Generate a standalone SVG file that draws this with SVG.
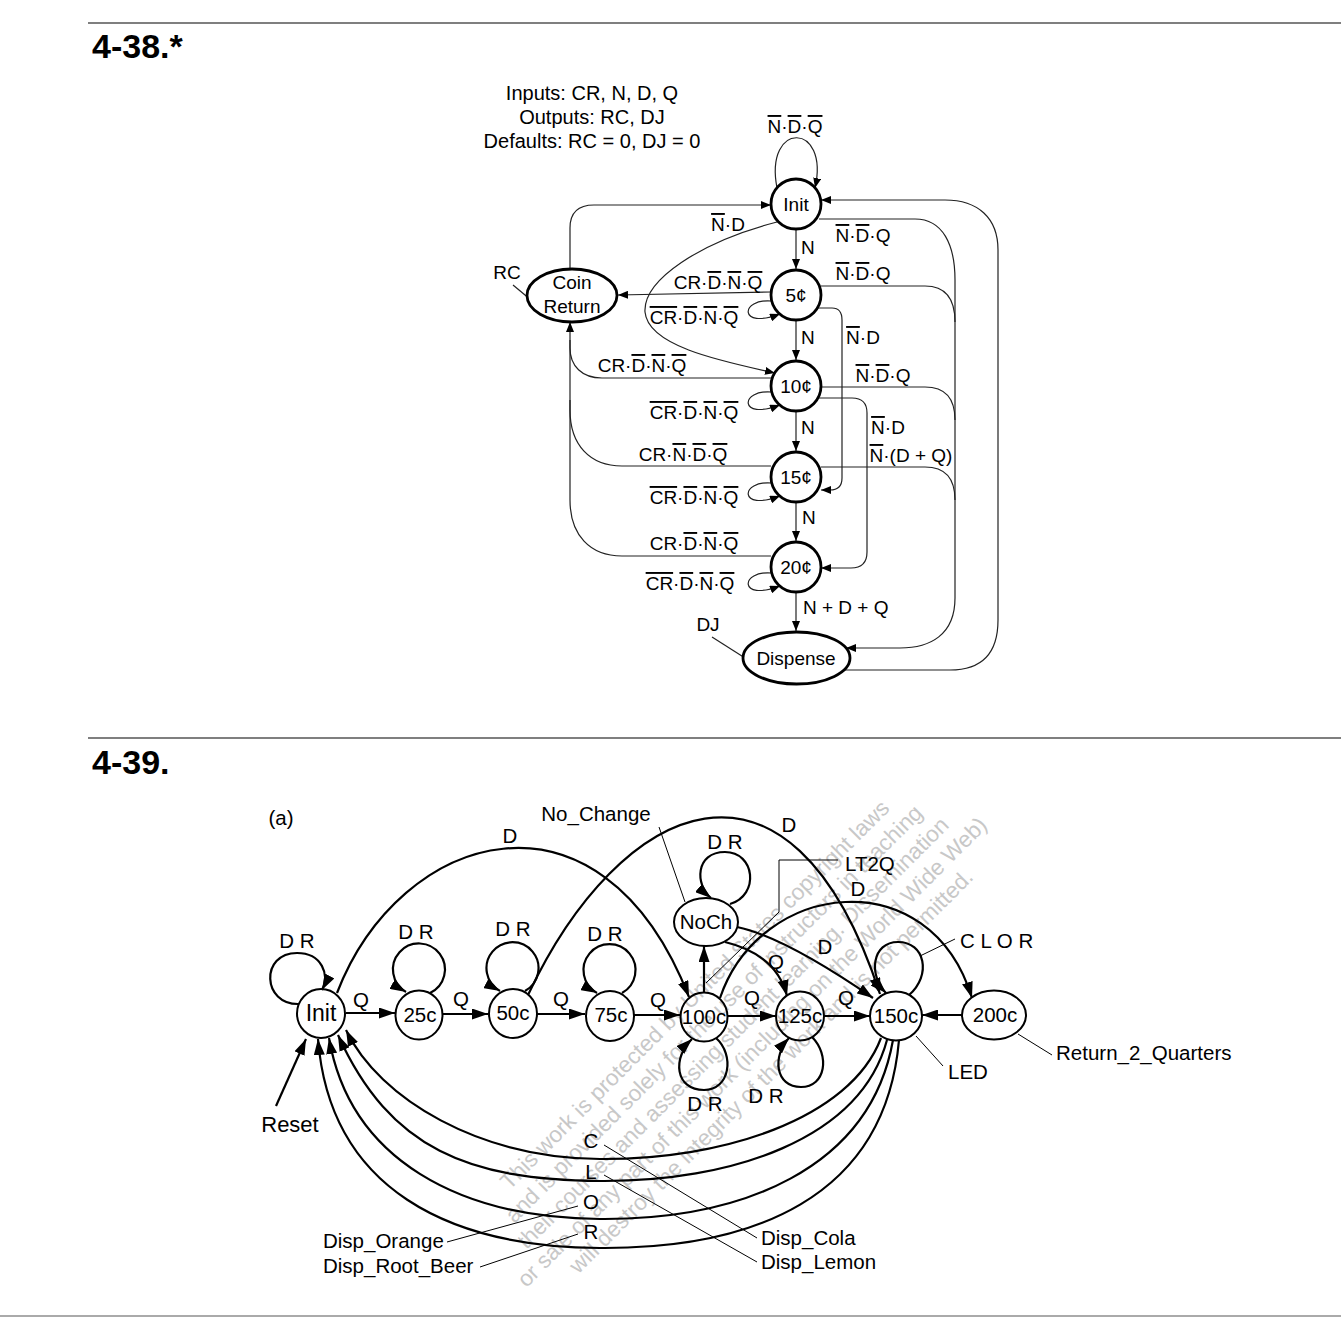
<svg xmlns="http://www.w3.org/2000/svg" width="1341" height="1318" viewBox="0 0 1341 1318">
<style>
text{font-family:"Liberation Sans",Arial,Helvetica,sans-serif;fill:#000}
.t19{font-size:19px}
.t20{font-size:20.5px}
.h{font-size:34px;font-weight:bold}
.m{text-anchor:middle}
.o{text-decoration:overline}
.e{fill:none;stroke:#222;stroke-width:1.2}
.n{fill:#fff;stroke:#000;stroke-width:2.8}
.b{fill:none;stroke:#000;stroke-width:2.2}
.bn{fill:none;stroke:#000;stroke-width:2}
.thin{fill:none;stroke:#000;stroke-width:1}
.wm{font-size:22.5px;fill:#c8c8c8;text-anchor:middle}
</style>
<defs>
<marker id="a" viewBox="0 0 10 8" refX="10" refY="4" markerWidth="10" markerHeight="8" markerUnits="userSpaceOnUse" orient="auto"><path d="M0,0 L10,4 L0,8 Z" fill="#000"/></marker>
<marker id="A" viewBox="0 0 16 11" refX="16" refY="5.5" markerWidth="16" markerHeight="11" markerUnits="userSpaceOnUse" orient="auto"><path d="M0,0 L16,5.5 L0,11 Z" fill="#000"/></marker>
</defs>
<rect width="1341" height="1318" fill="#fff"/>
<line x1="88" y1="23" x2="1341" y2="23" stroke="#000" stroke-width="1.2"/>
<line x1="88" y1="738" x2="1341" y2="738" stroke="#000" stroke-width="1.2"/>
<line x1="0" y1="1316" x2="1341" y2="1316" stroke="#aaa" stroke-width="2"/>
<text class="h" x="92" y="58">4-38.*</text>
<text class="h" x="92" y="774">4-39.</text>

<!-- ===== 4-38 ===== -->
<g id="p38-header" style="font-size:20px">
<text class="m" x="592" y="100">Inputs: CR, N, D, Q</text>
<text class="m" x="592" y="124">Outputs: RC, DJ</text>
<text class="m" x="592" y="148">Defaults: RC = 0, DJ = 0</text>
</g>
<g id="p38-connectors">
<path class="e" d="M777,188 C 764,120 830,122 815,188" marker-end="url(#a)"/>
<path class="e" d="M796,229 V269" marker-end="url(#a)"/>
<path class="e" d="M570,269 V228 Q570,205 594,205 H771" marker-end="url(#a)"/>
<path class="e" d="M777,222 C 700,242 643,280 645,312 C 648,345 715,360 775,373" marker-end="url(#a)"/>
<path class="e" d="M771,292 L618,295" marker-end="url(#a)"/>
<path class="e" d="M772,301 C 740,298 738,330 780,314" marker-end="url(#a)"/>
<path class="e" d="M796,320 V360" marker-end="url(#a)"/>
<path class="e" d="M819,219 H915 C943,219 955,245 955,280 V598 C955,635 930,648 900,648 H846" marker-end="url(#a)"/>
<path class="e" d="M821,286 H925 C945,286 955,298 955,322"/>
<path class="e" d="M821,387 H925 C945,387 955,398 955,420"/>
<path class="e" d="M821,467 H925 C945,467 955,478 955,500"/>
<path class="e" d="M844,670 H950 C985,670 998,650 998,620 V250 C998,218 978,200 945,200 H821" marker-end="url(#a)"/>
<path class="e" d="M818,308 H832 Q842,308 842,320 V478 Q842,490 830,490 H821" marker-end="url(#a)"/>
<path class="e" d="M818,398 H852 Q867,398 867,413 V552 Q867,568 851,568 H821" marker-end="url(#a)"/>
<path class="e" d="M771,378 H602 C582,378 570,366 570,348 V322" marker-end="url(#a)"/>
<path class="e" d="M771,466 H622 C590,466 570,445 570,410 V340"/>
<path class="e" d="M771,556 H622 C590,556 570,535 570,500 V400"/>
<path class="e" d="M772,392 C 740,389 738,421 780,405" marker-end="url(#a)"/>
<path class="e" d="M796,411 V451" marker-end="url(#a)"/>
<path class="e" d="M772,483 C 740,480 738,512 780,496" marker-end="url(#a)"/>
<path class="e" d="M796,502 V541" marker-end="url(#a)"/>
<path class="e" d="M772,573 C 740,570 738,602 780,586" marker-end="url(#a)"/>
<path class="e" d="M796,592 V631" marker-end="url(#a)"/>
<path class="e" d="M513,285 L531,300"/>
<path class="e" d="M712,637 L745,658"/>
</g>
<g id="p38-labels" class="t19">
<text class="m" x="795" y="133"><tspan class="o">N</tspan>·<tspan class="o">D</tspan>·<tspan class="o">Q</tspan></text>
<text class="m" x="728" y="231"><tspan class="o">N</tspan>·D</text>
<text x="801" y="254">N</text>
<text class="m" x="863" y="242"><tspan class="o">N</tspan>·<tspan class="o">D</tspan>·Q</text>
<text class="m" x="863" y="280"><tspan class="o">N</tspan>·<tspan class="o">D</tspan>·Q</text>
<text class="m" x="718" y="289">CR·<tspan class="o">D</tspan>·<tspan class="o">N</tspan>·<tspan class="o">Q</tspan></text>
<text class="m" x="694" y="324"><tspan class="o">CR</tspan>·<tspan class="o">D</tspan>·<tspan class="o">N</tspan>·<tspan class="o">Q</tspan></text>
<text x="801" y="344">N</text>
<text class="m" x="863" y="344"><tspan class="o">N</tspan>·D</text>
<text class="m" x="642" y="372">CR·<tspan class="o">D</tspan>·<tspan class="o">N</tspan>·<tspan class="o">Q</tspan></text>
<text class="m" x="883" y="382"><tspan class="o">N</tspan>·<tspan class="o">D</tspan>·Q</text>
<text class="m" x="694" y="419"><tspan class="o">CR</tspan>·<tspan class="o">D</tspan>·<tspan class="o">N</tspan>·<tspan class="o">Q</tspan></text>
<text x="801" y="434">N</text>
<text class="m" x="888" y="434"><tspan class="o">N</tspan>·D</text>
<text class="m" x="683" y="461">CR·<tspan class="o">N</tspan>·<tspan class="o">D</tspan>·<tspan class="o">Q</tspan></text>
<text class="m" x="911" y="462"><tspan class="o">N</tspan>·(D + Q)</text>
<text class="m" x="694" y="504"><tspan class="o">CR</tspan>·<tspan class="o">D</tspan>·<tspan class="o">N</tspan>·<tspan class="o">Q</tspan></text>
<text x="802" y="524">N</text>
<text class="m" x="694" y="550">CR·<tspan class="o">D</tspan>·<tspan class="o">N</tspan>·<tspan class="o">Q</tspan></text>
<text class="m" x="690" y="590"><tspan class="o">CR</tspan>·<tspan class="o">D</tspan>·<tspan class="o">N</tspan>·<tspan class="o">Q</tspan></text>
<text x="803" y="614">N + D + Q</text>
<text class="m" x="708" y="631">DJ</text>
<text class="m" x="507" y="279">RC</text>
</g>
<g id="s38-init" class="t19"><circle class="n" cx="796" cy="204" r="25"/><text class="m" x="796" y="211">Init</text></g>
<g id="s38-5" class="t19"><circle class="n" cx="796" cy="295" r="25"/><text class="m" x="796" y="302">5¢</text></g>
<g id="s38-10" class="t19"><circle class="n" cx="796" cy="386" r="25"/><text class="m" x="796" y="393">10¢</text></g>
<g id="s38-15" class="t19"><circle class="n" cx="796" cy="477" r="25"/><text class="m" x="796" y="484">15¢</text></g>
<g id="s38-20" class="t19"><circle class="n" cx="796" cy="567" r="25"/><text class="m" x="796" y="574">20¢</text></g>
<g id="s38-coinreturn" class="t19"><ellipse class="n" cx="572" cy="295.5" rx="45" ry="26.5"/><text class="m" x="572" y="289">Coin</text><text class="m" x="572" y="313">Return</text></g>
<g id="s38-dispense" class="t19"><ellipse class="n" cx="796.5" cy="658" rx="53.5" ry="26"/><text class="m" x="796" y="665">Dispense</text></g>

<!-- ===== 4-39 ===== -->
<g id="watermark" transform="translate(734,1034) rotate(-45)">
<text class="wm" x="0" y="-48">This work is protected by United States copyright laws</text>
<text class="wm" x="0" y="-21">and is provided solely for the use of instructors in teaching</text>
<text class="wm" x="0" y="6">their courses and assessing student learning. Dissemination</text>
<text class="wm" x="0" y="33">or sale of any part of this work (including on the World Wide Web)</text>
<text class="wm" x="0" y="60">will destroy the integrity of the work and is not permitted.</text>
</g>
<text class="t20" x="281" y="825" text-anchor="middle">(a)</text>
<g id="p39-connectors">
<path class="b" d="M346,1013 H395" marker-end="url(#A)"/>
<path class="b" d="M443,1014 H488" marker-end="url(#A)"/>
<path class="b" d="M537,1014 H585" marker-end="url(#A)"/>
<path class="b" d="M634,1015 H680" marker-end="url(#A)"/>
<path class="b" d="M728,1016 H776" marker-end="url(#A)"/>
<path class="b" d="M824,1016 H870" marker-end="url(#A)"/>
<path class="b" d="M962,1015 H922" marker-end="url(#A)"/>
<path class="b" d="M704,993 V946" marker-end="url(#A)"/>
<path class="b" d="M337,993 C 400,830 600,770 689,997" marker-end="url(#A)"/>
<path class="b" d="M528,995 C 620,800 790,720 880,994" marker-end="url(#A)"/>
<path class="b" d="M720,998 C 760,880 930,860 972,998" marker-end="url(#A)"/>
<path class="b" d="M737,927 C 775,935 825,965 873,998" marker-end="url(#A)"/>
<path class="b" d="M725,942 C 758,950 780,968 787,996" marker-end="url(#A)"/>
<path class="b" d="M299,1004 C 262,1005 260,953 297,953 C 322,953 330,975 322,990" marker-end="url(#A)"/>
<path class="b" d="M430,993 A 26 26 0 1 0 406,992" marker-end="url(#A)"/>
<path class="b" d="M525,991 A 26 26 0 1 0 500,991" marker-end="url(#A)"/>
<path class="b" d="M622,993 A 26 26 0 1 0 597,993" marker-end="url(#A)"/>
<path class="b" d="M730,904 C 760,895 755,852 725,852 C 695,852 695,885 711,898" marker-end="url(#A)"/>
<path class="b" d="M716,1038 C 735,1055 730,1090 704,1090 C 675,1090 672,1058 692,1039" marker-end="url(#A)"/>
<path class="b" d="M812,1037 C 830,1055 826,1087 801,1087 C 775,1087 772,1056 789,1038" marker-end="url(#A)"/>
<path class="b" d="M909,995 C 932,975 925,942 898,942 C 872,942 868,975 886,993" marker-end="url(#A)"/>
<path class="b" d="M881,1038 C 850,1120 720,1160 600,1159 C 480,1158 380,1100 346,1030" marker-end="url(#A)"/>
<path class="b" d="M887,1040 C 860,1140 730,1182 600,1181 C 470,1180 390,1150 338,1035" marker-end="url(#A)"/>
<path class="b" d="M893,1040 C 870,1170 740,1220 600,1219 C 460,1218 350,1160 329,1038" marker-end="url(#A)"/>
<path class="b" d="M899,1040 C 885,1200 750,1249 600,1248 C 450,1247 330,1190 318,1039" marker-end="url(#A)"/>
<path class="b" d="M276,1106 L306,1039" marker-end="url(#A)"/>
<path class="thin" d="M659,827 L685,902"/>
<path class="thin" d="M838,860 H779 V912 L706,983"/>
<path class="thin" d="M955,939 L920,956"/>
<path class="thin" d="M916,1036 L943,1066"/>
<path class="thin" d="M1018,1034 L1052,1055"/>
<path class="thin" d="M447,1242 L578,1206"/>
<path class="thin" d="M480,1267 L578,1234"/>
<path class="thin" d="M604,1145 L757,1238"/>
<path class="thin" d="M604,1175 L757,1262"/>
</g>
<g id="p39-labels" class="t20">
<text class="m" x="596" y="821">No_Change</text>
<text class="m" x="510" y="843">D</text>
<text class="m" x="789" y="832">D</text>
<text class="m" x="725" y="849">D R</text>
<text x="845" y="871">LT2Q</text>
<text class="m" x="858" y="896">D</text>
<text class="m" x="825" y="954">D</text>
<text class="m" x="776" y="969">Q</text>
<text class="m" x="361" y="1007">Q</text>
<text class="m" x="461" y="1006">Q</text>
<text class="m" x="561" y="1006">Q</text>
<text class="m" x="658" y="1007">Q</text>
<text class="m" x="752" y="1005">Q</text>
<text class="m" x="846" y="1005">Q</text>
<text class="m" x="297" y="948">D R</text>
<text class="m" x="416" y="939">D R</text>
<text class="m" x="513" y="936">D R</text>
<text class="m" x="605" y="941">D R</text>
<text class="m" x="705" y="1111">D R</text>
<text class="m" x="766" y="1103">D R</text>
<text x="960" y="948">C L O R</text>
<text x="948" y="1079">LED</text>
<text x="1056" y="1060">Return_2_Quarters</text>
<text class="m" x="290" y="1132" style="font-size:22px">Reset</text>
<text class="m" x="591" y="1148">C</text>
<text class="m" x="591" y="1179">L</text>
<text class="m" x="591" y="1209">O</text>
<text class="m" x="591" y="1239">R</text>
<text x="323" y="1248">Disp_Orange</text>
<text x="323" y="1273">Disp_Root_Beer</text>
<text x="761" y="1245">Disp_Cola</text>
<text x="761" y="1269">Disp_Lemon</text>
</g>
<g id="s39-init"><ellipse class="bn" cx="321" cy="1013.5" rx="24" ry="24.5"/><text class="m" x="321" y="1021" style="font-size:23px">Init</text></g>
<g id="s39-25c" class="t20"><ellipse class="bn" cx="419" cy="1015" rx="23.5" ry="24.5"/><text class="m" x="420" y="1022">25c</text></g>
<g id="s39-50c" class="t20"><ellipse class="bn" cx="513" cy="1013.5" rx="24" ry="24.5"/><text class="m" x="513" y="1020">50c</text></g>
<g id="s39-75c" class="t20"><ellipse class="bn" cx="610" cy="1016" rx="24" ry="25"/><text class="m" x="611" y="1022">75c</text></g>
<g id="s39-100c" class="t20"><ellipse class="bn" cx="704" cy="1017" rx="23.5" ry="24.5"/><text class="m" x="704" y="1024">100c</text></g>
<g id="s39-125c" class="t20"><ellipse class="bn" cx="800" cy="1016" rx="24" ry="24.5"/><text class="m" x="800" y="1023">125c</text></g>
<g id="s39-150c" class="t20"><ellipse class="bn" cx="896" cy="1016" rx="26" ry="24.5"/><text class="m" x="896" y="1023">150c</text></g>
<g id="s39-200c" class="t20"><ellipse class="bn" cx="994" cy="1015" rx="32" ry="24.5"/><text class="m" x="995" y="1022">200c</text></g>
<g id="s39-noch" class="t20"><ellipse class="bn" cx="706" cy="922" rx="32" ry="24"/><text class="m" x="706" y="929">NoCh</text></g>
</svg>
